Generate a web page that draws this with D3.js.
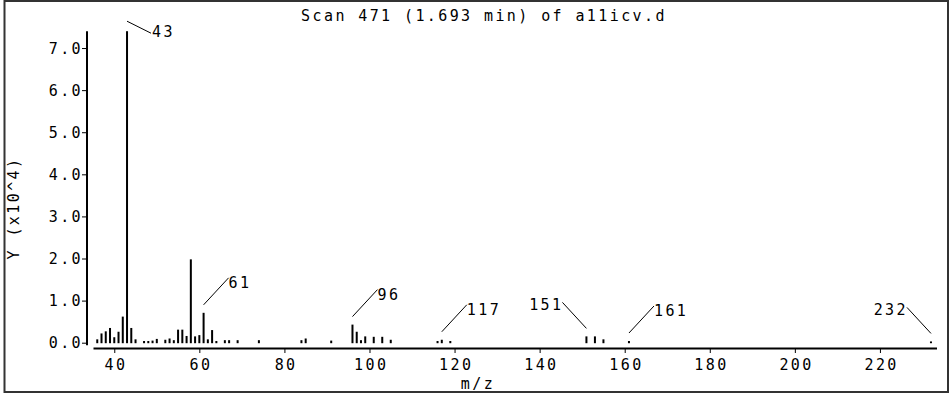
<!DOCTYPE html>
<html lang="en">
<head>
  <meta charset="UTF-8">
  <title>Scan 471</title>
  <style>
    body { margin: 0; background: #fff; }
    text {
      font-family: 'DejaVu Sans Mono', monospace;
      font-size: 15px;
      letter-spacing: 2.4px;
      fill: #000;
    }
    .bar { fill: #000; }
    .lead { stroke: #000; stroke-width: 1; }
  </style>
</head>
<body>
  <svg width="950" height="394"></svg>
  <script src="https://d3js.org/d3.v7.min.js"></script>
  <script>
    // m/z values and abundance (x10^4)
    var mz = [36, 37, 38, 39, 40, 41, 42, 43, 44, 45, 47, 48, 49, 50, 52, 53, 54, 55, 56, 57,
      58, 59, 60, 61, 62, 63, 64, 66, 67, 69, 74, 84, 85, 91, 96, 97, 98, 99, 101, 103,
      105, 116, 117, 119, 151, 153, 155, 161, 232]
    var abundance = [0.08, 0.22, 0.27, 0.35, 0.13, 0.26, 0.62, 7.40, 0.35, 0.08, 0.04, 0.04, 0.05, 0.09, 0.07, 0.10, 0.06, 0.31, 0.31, 0.16,
      1.98, 0.15, 0.18, 0.71, 0.08, 0.30, 0.04, 0.06, 0.06, 0.06, 0.06, 0.06, 0.10, 0.05, 0.43, 0.26, 0.06, 0.15, 0.14, 0.14,
      0.07, 0.04, 0.07, 0.04, 0.15, 0.15, 0.08, 0.04, 0.03]
    var labeled = [43, 61, 96, 117, 151, 161, 232]
    var labelLeft = [151, 232]
    var xTicks = [40, 60, 80, 100, 120, 140, 160, 180, 200, 220]
    var yTicks = [0, 1, 2, 3, 4, 5, 6, 7]

    var svg = d3.select('svg')

    // frame
    svg.append('rect')
      .attr('x', 4.5).attr('y', 1)
      .attr('width', 943.5).attr('height', 391)
      .attr('fill', 'none')
      .attr('stroke', '#333')
      .attr('stroke-width', 2)

    var x = d3.scaleLinear().domain([35, 233.3]).range([93, 936.5])
    var y = d3.scaleLinear().domain([0, 7.4]).range([342.7, 31.2])

    // y axis
    var yAxis = svg.append('g')
      .attr('transform', 'translate(87,0)')
      .call(d3.axisLeft(y).tickValues(yTicks).tickSize(5).tickPadding(3)
        .tickFormat(d3.format('.1f')))
    yAxis.select('.domain').remove()
    yAxis.selectAll('text')
      .attr('x', -4)
      .attr('dy', '0.35em')
    yAxis.append('line')
      .attr('x1', 0).attr('x2', 0)
      .attr('y1', y(7.4)).attr('y2', y(0) + 2.5)
      .attr('stroke', '#000').attr('stroke-width', 2)

    // x axis
    var xAxis = svg.append('g')
      .attr('transform', 'translate(0,348)')
      .call(d3.axisBottom(x).tickValues(xTicks).tickSize(5).tickPadding(6).tickSizeOuter(0))
    xAxis.select('.domain').attr('stroke-width', 2)
    xAxis.selectAll('text').attr('dx', '0.08em')
    svg.selectAll('.tick line').attr('stroke', '#000')
    svg.selectAll('.tick text').attr('fill', '#000')
    svg.selectAll('g').attr('font-family', null).attr('font-size', null)

    // bars
    svg.selectAll('.bar')
      .data(mz)
      .enter()
      .append('rect')
      .attr('class', 'bar')
      .attr('x', function(d) { return x(d) - 1 })
      .attr('y', function(d, i) { return y(abundance[i]) })
      .attr('width', 2)
      .attr('height', function(d, i) { return y(0) - y(abundance[i]) + 0.5 })

    // peak labels
    labeled.forEach(function(m) {
      var v = abundance[mz.indexOf(m)]
      var bx = x(m), by = y(v)
      var x1 = bx, y1 = by - 8, x2, y2, tx, ty, anchor = 'start'
      if (by < 60) {
        y1 = by - 10; x2 = bx + 24; y2 = by + 2; tx = x2 + 1; ty = by + 6
      } else if (labelLeft.indexOf(m) >= 0) {
        x2 = bx - 24; y2 = y1 - 26; tx = x2 + 1; ty = y2 + 8; anchor = 'end'
      } else {
        x2 = bx + 25; y2 = y1 - 27; tx = x2; ty = y2 + 10
      }
      svg.append('line').attr('class', 'lead')
        .attr('x1', x1).attr('y1', y1).attr('x2', x2).attr('y2', y2)
      svg.append('text')
        .attr('x', tx).attr('y', ty)
        .attr('text-anchor', anchor)
        .text(m)
    })

    // titles
    svg.append('text')
      .attr('x', 484).attr('y', 21)
      .attr('text-anchor', 'middle')
      .text('Scan 471 (1.693 min) of a11icv.d')

    svg.append('text')
      .attr('x', 478).attr('y', 389)
      .attr('text-anchor', 'middle')
      .text('m/z')

    svg.append('text')
      .attr('transform', 'translate(19,208) rotate(-90)')
      .attr('text-anchor', 'middle')
      .text('Y (x10^4)')
  </script>
</body>
</html>
